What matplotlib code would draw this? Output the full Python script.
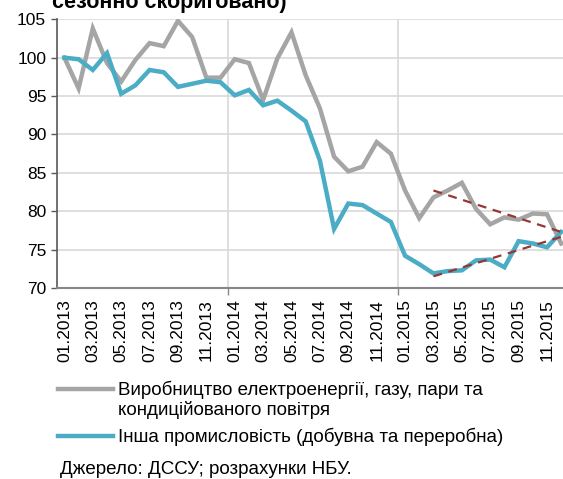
import matplotlib.pyplot as plt
import numpy as np
from matplotlib.lines import Line2D

plt.rcParams['font.family'] = ['Liberation Sans', 'DejaVu Sans']

# Data (index, Jan 2013 = 100)
months = [f"{m:02d}.{y}" for y in (2013, 2014, 2015) for m in range(1, 13)]
energy = [100.0, 96.0, 103.8, 99.3, 96.9, 99.7, 101.9, 101.5, 104.8, 102.7, 97.4, 97.4,
          99.8, 99.3, 94.5, 99.9, 103.3, 97.7, 93.4, 87.1, 85.2, 85.8, 89.0, 87.5,
          82.7, 79.1, 81.8, 82.7, 83.7, 80.3, 78.3, 79.2, 78.9, 79.7, 79.6, 75.8]
other = [100.0, 99.8, 98.4, 100.6, 95.3, 96.4, 98.4, 98.1, 96.2, 96.6, 97.0, 96.8,
         95.1, 95.8, 93.8, 94.4, 93.1, 91.7, 86.6, 77.7, 81.0, 80.8, 79.7, 78.6,
         74.2, 73.1, 71.9, 72.2, 72.3, 73.6, 73.7, 72.7, 76.1, 75.8, 75.3, 77.3]
trend_start = 26  # trend lines from 03.2015

label_energy = "Виробництво електроенергії, газу, пари та"
label_energy2 = "кондиційованого повітря"
label_other = "Інша промисловість (добувна та переробна)"
source = "Джерело: ДССУ; розрахунки НБУ."
title = "сезонно скориговано)"

GRAY = '#A5A5A5'
BLUE = '#4BACC6'
RED = '#953735'

fig = plt.figure(figsize=(5.63, 4.79), dpi=100)
# axes runs a little past the right edge, like the cropped original
ax = fig.add_axes([57.3 / 563, 1 - 288 / 479, 511 / 563, (288 - 19.3) / 479])

x = np.arange(len(months))
ax.plot(x, energy, color=GRAY, lw=3.2, solid_joinstyle='miter', zorder=3)
ax.plot(x, other, color=BLUE, lw=3.2, solid_joinstyle='miter', zorder=3)

# linear trends over the last ten months
xt = x[trend_start:]
for series in (energy, other):
    k, b = np.polyfit(xt, series[trend_start:], 1)
    ax.plot(xt, k * xt + b, color=RED, lw=1.6, ls=(0, (4, 3)), zorder=4)

ax.set_xlim(-0.5, len(months) - 0.5)
ax.set_ylim(70, 105)
ax.set_yticks(range(70, 106, 5))
ax.tick_params(axis='y', labelsize=12.5, length=4, width=1, color='#595959', pad=4)

# labels every second month, tick marks only at year boundaries
ax.set_xticks(x[::2])
ax.set_xticklabels(months[::2], rotation=90, fontsize=12.5)
ax.tick_params(axis='x', length=0, pad=8)
ax.set_xticks([11.5, 23.5, 35.5], minor=True)
ax.tick_params(axis='x', which='minor', length=5, width=1, color='#868686')

ax.grid(axis='y', color='#D9D9D9', lw=1.2)
for xv in (11.5, 23.5):
    ax.axvline(xv, color='#D9D9D9', lw=1.2, zorder=1)
ax.set_axisbelow(True)

for s in ('top', 'right'):
    ax.spines[s].set_visible(False)
ax.spines['left'].set_color('#595959')
ax.spines['left'].set_linewidth(1.2)
ax.spines['bottom'].set_color('#868686')
ax.spines['bottom'].set_linewidth(1.5)

# legend: two blocks so the gray handle sits on the first text line
leg_kw = dict(loc='upper left', frameon=False, fontsize=13.5, handlelength=2.93,
              handletextpad=0.28, labelspacing=0.08, borderpad=0, borderaxespad=0)
fig.legend([Line2D([], [], color=GRAY, lw=3.2), Line2D([], [], color='none')],
           [label_energy, label_energy2],
           bbox_to_anchor=(58.3 / 563, 1 - 381 / 479), **leg_kw)
fig.legend([Line2D([], [], color=BLUE, lw=3.2)], [label_other],
           bbox_to_anchor=(58.3 / 563, 1 - 428 / 479), **leg_kw)

fig.text(60.5 / 563, 1 - 469 / 479, source, fontsize=13.5, va='center', ha='left')
fig.text(52 / 563, 1 - 8 / 479, title, fontsize=15.5, fontweight='bold',
         va='baseline', ha='left')

fig.savefig('out.png', dpi=100)
